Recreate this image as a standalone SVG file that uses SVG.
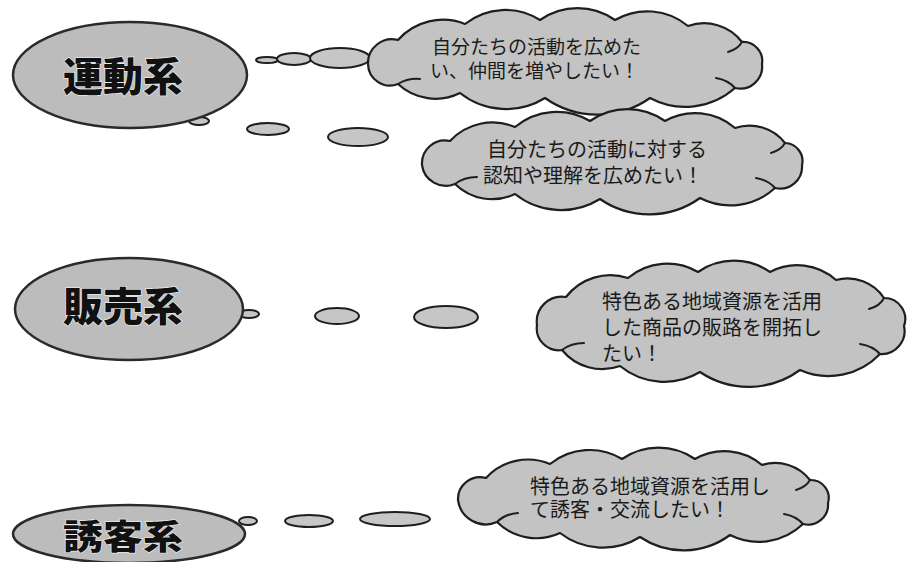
<svg xmlns="http://www.w3.org/2000/svg" width="910" height="562" viewBox="0 0 910 562">
<style>
.big{fill:#bcbcbc;stroke:#2a2a2a;stroke-width:2.5}
.cloud{fill:#c3c3c3;stroke:#1e1e1e;stroke-width:2.2;stroke-linejoin:round}
.curl{fill:none;stroke:#1e1e1e;stroke-width:2;stroke-linecap:round}
.bub{fill:#c6c6c6;stroke:#1e1e1e;stroke-width:2}
.title{font-family:"Noto Sans CJK JP","Noto Sans CJK SC",sans-serif;font-size:40px;font-weight:900;fill:#111;text-anchor:middle;stroke:#e8e8e8;stroke-width:1.5;paint-order:stroke}
.msg{font-family:"Liberation Sans","Noto Sans CJK JP","Noto Sans CJK SC",sans-serif;font-size:20px;font-weight:400;fill:#1a1a1a}
</style>
<rect width="910" height="562" fill="#ffffff"/>

<g id="connectors">
  <ellipse class="bub" cx="267" cy="60" rx="11" ry="3"/>
  <ellipse class="bub" cx="294" cy="59" rx="17" ry="6"/>
  <ellipse class="bub" cx="340" cy="58" rx="30" ry="10"/>
  <ellipse class="bub" cx="199" cy="121" rx="10" ry="4"/>
  <ellipse class="bub" cx="268" cy="129" rx="21" ry="6"/>
  <ellipse class="bub" cx="358" cy="137" rx="30" ry="9"/>
  <ellipse class="bub" cx="249" cy="314" rx="10" ry="4"/>
  <ellipse class="bub" cx="337" cy="316" rx="22" ry="8"/>
  <ellipse class="bub" cx="446" cy="317" rx="32" ry="11"/>
  <ellipse class="bub" cx="248" cy="521" rx="9" ry="4"/>
  <ellipse class="bub" cx="309" cy="521" rx="24" ry="6"/>
  <ellipse class="bub" cx="395" cy="519" rx="35" ry="7"/>
</g>

<g id="node-undou">
  <ellipse class="big" cx="130" cy="75" rx="117" ry="53"/>
  <text class="title" x="123" y="91">運動系</text>
</g>

<g id="node-hanbai">
  <ellipse class="big" cx="129" cy="309" rx="114" ry="51"/>
  <text class="title" x="123" y="321">販売系</text>
</g>

<g id="node-yuukyaku">
  <ellipse class="big" cx="129" cy="534" rx="116" ry="29"/>
  <text class="title" x="123" y="0" transform="translate(0,549) scale(1,0.85)">誘客系</text>
</g>

<g id="cloud-1">
  <path class="cloud" d="M368,64 A24,24 0 0 1 398,40 A60,60 0 0 1 465,24 A65,65 0 0 1 540,20 A65,65 0 0 1 615,20 A64,64 0 0 1 688,26 A48,48 0 0 1 742,42 A19,19 0 0 1 762,64 A22,22 0 0 1 735,88 A75,75 0 0 1 650,98 A91,91 0 0 1 545,98 A74,74 0 0 1 460,93 A55,55 0 0 1 398,84 A22,22 0 0 1 368,64 Z"/>
  <path class="curl" d="M742,42 Q738,49 728,52"/>
  <path class="curl" d="M398,84 Q408,78 420,79"/>
  <path class="curl" d="M735,88 Q728,80 716,78"/>
  <text class="msg" style="font-size:19px"><tspan x="432" y="54">自分たちの活動を広めた</tspan><tspan x="430" y="78">い、仲間を増やしたい！</tspan></text>
</g>

<g id="cloud-2">
  <path class="cloud" d="M422,165 A23,23 0 0 1 450,141 A58,58 0 0 1 515,127 A65,65 0 0 1 590,121 A65,65 0 0 1 665,121 A61,61 0 0 1 735,128 A45,45 0 0 1 785,143 A18,18 0 0 1 802,165 A22,22 0 0 1 775,188 A66,66 0 0 1 700,198 A87,87 0 0 1 600,199 A74,74 0 0 1 515,194 A53,53 0 0 1 455,184 A24,24 0 0 1 422,165 Z"/>
  <path class="curl" d="M785,143 Q781,150 771,153"/>
  <path class="curl" d="M455,184 Q464,177 477,177"/>
  <path class="curl" d="M775,188 Q768,180 756,178"/>
  <text class="msg"><tspan x="487" y="157">自分たちの活動に対する</tspan><tspan x="483" y="183">認知や理解を広めたい！</tspan></text>
</g>

<g id="cloud-3">
  <path class="cloud" d="M537,325 A25,25 0 0 1 566,297 A56,56 0 0 1 628,278 A61,61 0 0 1 698,272 A63,63 0 0 1 770,272 A58,58 0 0 1 836,280 A44,44 0 0 1 884,298 A21,21 0 0 1 904,326 A23,23 0 0 1 880,354 A71,71 0 0 1 800,370 A87,87 0 0 1 700,372 A70,70 0 0 1 620,366 A52,52 0 0 1 562,350 A22,22 0 0 1 537,325 Z"/>
  <path class="curl" d="M884,298 Q880,306 869,309"/>
  <path class="curl" d="M562,350 Q571,343 584,343"/>
  <path class="curl" d="M880,354 Q873,346 860,344"/>
  <text class="msg"><tspan x="602" y="309">特色ある地域資源を活用</tspan><tspan x="602" y="335">した商品の販路を開拓し</tspan><tspan x="602" y="361">たい！</tspan></text>
</g>

<g id="cloud-4">
  <path class="cloud" d="M458,500 A22,22 0 0 1 486,478 A57,57 0 0 1 550,464 A63,63 0 0 1 622,459 A64,64 0 0 1 695,459 A58,58 0 0 1 762,465 A44,44 0 0 1 810,480 A18,18 0 0 1 828,503 A20,20 0 0 1 803,524 A64,64 0 0 1 730,535 A78,78 0 0 1 640,537 A70,70 0 0 1 560,533 A56,56 0 0 1 497,522 A28,28 0 0 1 458,500 Z"/>
  <path class="curl" d="M810,480 Q806,487 796,490"/>
  <path class="curl" d="M497,522 Q505,514 518,513"/>
  <path class="curl" d="M803,524 Q796,516 784,514"/>
  <text class="msg"><tspan x="530" y="494">特色ある地域資源を活用し</tspan><tspan x="530" y="517">て誘客・交流したい！</tspan></text>
</g>
</svg>
